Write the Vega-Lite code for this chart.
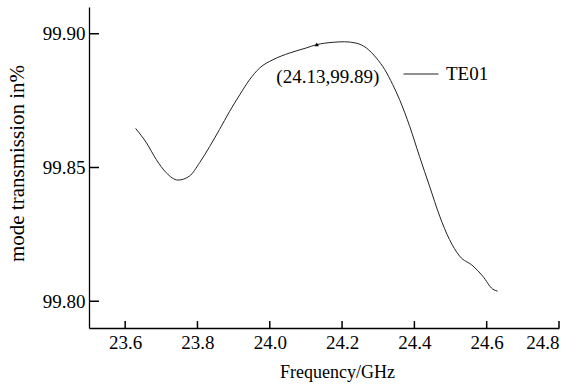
{
  "$schema": "https://vega.github.io/schema/vega-lite/v6.json",
  "width": 470,
  "height": 321,
  "autosize": {"type": "none"},
  "padding": {"left": 89, "top": 7, "right": 20, "bottom": 57},
  "background": "white",
  "config": {
    "view": {"stroke": null},
    "font": "Liberation Serif",
    "axis": {
      "grid": false,
      "ticks": false,
      "domainColor": "#000000",
      "domainWidth": 1.3,
      "labelFont": "Liberation Serif",
      "labelFontSize": 19,
      "labelColor": "#000000",
      "titleFont": "Liberation Serif",
      "titleFontWeight": "normal",
      "titleColor": "#000000"
    },
    "legend": {
      "labelFont": "Liberation Serif",
      "labelFontSize": 19,
      "labelColor": "#000000"
    }
  },
  "datasets": {
    "curve": [
      {"freq": 23.629, "value": 99.8646, "series": "TE01"},
      {"freq": 23.659, "value": 99.8592, "series": "TE01"},
      {"freq": 23.686, "value": 99.853, "series": "TE01"},
      {"freq": 23.714, "value": 99.848, "series": "TE01"},
      {"freq": 23.746, "value": 99.8453, "series": "TE01"},
      {"freq": 23.778, "value": 99.8468, "series": "TE01"},
      {"freq": 23.806, "value": 99.8518, "series": "TE01"},
      {"freq": 23.834, "value": 99.8579, "series": "TE01"},
      {"freq": 23.861, "value": 99.8642, "series": "TE01"},
      {"freq": 23.889, "value": 99.871, "series": "TE01"},
      {"freq": 23.917, "value": 99.8772, "series": "TE01"},
      {"freq": 23.944, "value": 99.8828, "series": "TE01"},
      {"freq": 23.972, "value": 99.8872, "series": "TE01"},
      {"freq": 24.009, "value": 99.8903, "series": "TE01"},
      {"freq": 24.055, "value": 99.8928, "series": "TE01"},
      {"freq": 24.101, "value": 99.8947, "series": "TE01"},
      {"freq": 24.129, "value": 99.8959, "series": "TE01"},
      {"freq": 24.175, "value": 99.8968, "series": "TE01"},
      {"freq": 24.207, "value": 99.897, "series": "TE01"},
      {"freq": 24.239, "value": 99.8965, "series": "TE01"},
      {"freq": 24.267, "value": 99.8947, "series": "TE01"},
      {"freq": 24.295, "value": 99.8909, "series": "TE01"},
      {"freq": 24.318, "value": 99.8866, "series": "TE01"},
      {"freq": 24.34, "value": 99.881, "series": "TE01"},
      {"freq": 24.359, "value": 99.8754, "series": "TE01"},
      {"freq": 24.387, "value": 99.8654, "series": "TE01"},
      {"freq": 24.414, "value": 99.8542, "series": "TE01"},
      {"freq": 24.442, "value": 99.843, "series": "TE01"},
      {"freq": 24.47, "value": 99.8318, "series": "TE01"},
      {"freq": 24.497, "value": 99.8231, "series": "TE01"},
      {"freq": 24.525, "value": 99.8169, "series": "TE01"},
      {"freq": 24.562, "value": 99.8132, "series": "TE01"},
      {"freq": 24.589, "value": 99.8094, "series": "TE01"},
      {"freq": 24.617, "value": 99.8045, "series": "TE01"},
      {"freq": 24.63, "value": 99.8038, "series": "TE01"}
    ],
    "marker": [
      {"freq": 24.13, "value": 99.896, "label": "(24.13,99.89)"}
    ],
    "xticks": [
      {"freq": 23.6}, {"freq": 23.8}, {"freq": 24.0}, {"freq": 24.2},
      {"freq": 24.4}, {"freq": 24.6}, {"freq": 24.8}
    ],
    "yticks": [
      {"value": 99.8}, {"value": 99.85}, {"value": 99.9}
    ]
  },
  "layer": [
    {
      "data": {"name": "curve"},
      "mark": {"type": "line", "strokeWidth": 1, "interpolate": "monotone"},
      "encoding": {
        "x": {
          "field": "freq",
          "type": "quantitative",
          "scale": {"domain": [23.5, 24.8], "nice": false, "zero": false},
          "axis": {
            "title": "Frequency/GHz",
            "titleFontSize": 18,
            "values": [23.6, 23.8, 24.0, 24.2, 24.4, 24.6, 24.8],
            "format": ".1f",
            "labelPadding": 5,
            "titlePadding": 11,
            "titleX": 248
          }
        },
        "y": {
          "field": "value",
          "type": "quantitative",
          "scale": {"domain": [99.79, 99.91], "nice": false, "zero": false},
          "axis": {
            "title": "mode transmission in%",
            "titleFontSize": 21,
            "values": [99.8, 99.85, 99.9],
            "format": ".2f",
            "labelPadding": 4,
            "titlePadding": 15,
            "titleY": 156
          }
        },
        "color": {
          "field": "series",
          "type": "nominal",
          "scale": {"range": ["#222222"]},
          "legend": {
            "title": null,
            "orient": "none",
            "legendX": 314,
            "legendY": 49,
            "symbolType": "stroke",
            "symbolSize": 1225,
            "symbolStrokeWidth": 1,
            "labelOffset": 7,
            "padding": 0
          }
        }
      }
    },
    {
      "data": {"name": "xticks"},
      "mark": {"type": "rule", "color": "#000000", "strokeWidth": 1.5},
      "encoding": {
        "x": {"field": "freq", "type": "quantitative"},
        "y": {"datum": 99.79},
        "y2": {"datum": 99.7926}
      }
    },
    {
      "data": {"name": "yticks"},
      "mark": {"type": "rule", "color": "#000000", "strokeWidth": 1.5},
      "encoding": {
        "y": {"field": "value", "type": "quantitative"},
        "x": {"datum": 23.5},
        "x2": {"datum": 23.5276}
      }
    },
    {
      "data": {"name": "marker"},
      "mark": {"type": "point", "shape": "triangle-up", "filled": true, "size": 18, "color": "#000000", "opacity": 1},
      "encoding": {
        "x": {"field": "freq", "type": "quantitative"},
        "y": {"field": "value", "type": "quantitative"}
      }
    },
    {
      "data": {"name": "marker"},
      "mark": {"type": "text", "fontSize": 19, "font": "Liberation Serif", "color": "#000000", "align": "center", "baseline": "middle", "dx": 11, "dy": 33},
      "encoding": {
        "x": {"field": "freq", "type": "quantitative"},
        "y": {"field": "value", "type": "quantitative"},
        "text": {"field": "label"}
      }
    }
  ]
}
